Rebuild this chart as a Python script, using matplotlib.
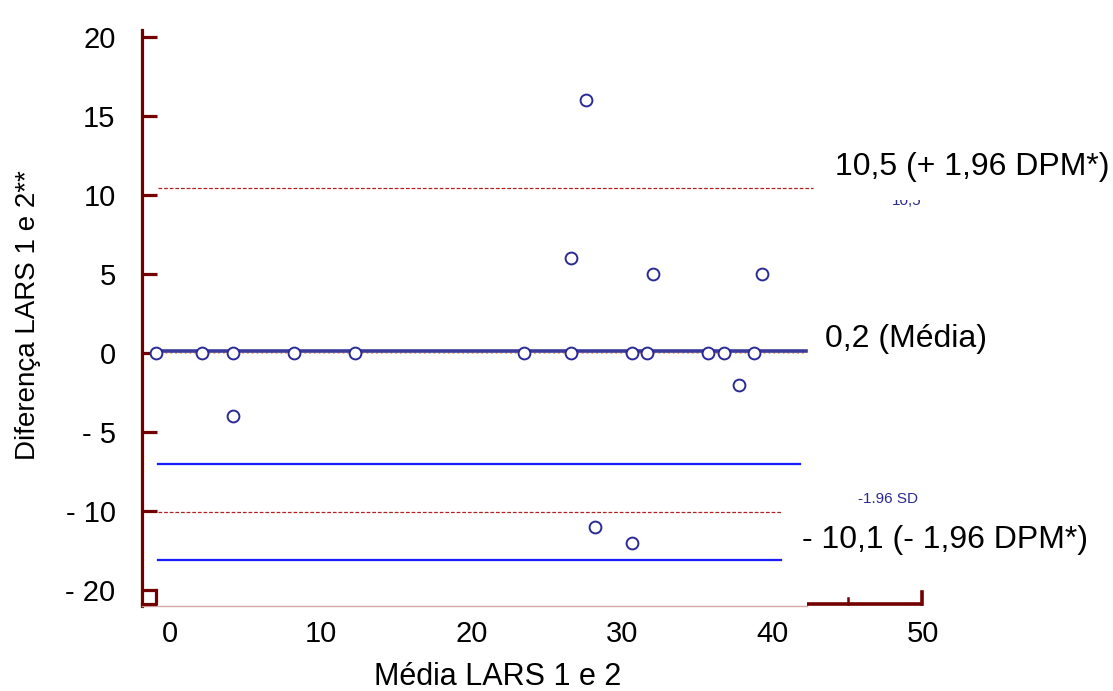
import matplotlib
matplotlib.use("Agg")
import matplotlib.pyplot as plt
from matplotlib.patches import Rectangle

plt.rcParams['font.family'] = ['Liberation Sans', 'DejaVu Sans']

# Bland-Altman points (mean of the two readings, difference)
media = [-0.9, 2.1, 4.2, 8.2, 12.3, 23.5, 26.6, 30.7, 31.7, 35.7, 36.8, 38.8,
         27.6, 26.6, 32.1, 39.3, 37.8, 28.2, 30.7, 4.2]
diferenca = [0, 0, 0, 0, 0, 0, 0, 0, 0, 0, 0, 0,
             16, 6, 5, 5, -2, -11, -12, -4]

# reference lines
media_dif = 0.15
lim_sup = 10.45
lim_inf = -10.05
azul_sup = -7.0
azul_inf = -13.1

ytick_vals = [20, 15, 10, 5, 0, -5, -10, -15]
ytick_labels = ['20', '15', '10', '5', '0', '- 5', '- 10', '- 20']
xtick_vals = [0, 10, 20, 30, 40, 50]
xtick_labels = ['0', '10', '20', '30', '40', '50']

maroon = '#730000'
navy = '#2a2a96'


def main():
    fig = plt.figure(figsize=(11.13, 6.91), dpi=100)
    ax = fig.add_axes([142 / 1113, 1 - 606 / 691, (923 - 142) / 1113, (606 - 30) / 691])
    ax.set_xlim(-1.86, 50)
    ax.set_ylim(-16.0, 20.45)

    for s in ['top', 'right', 'bottom']:
        ax.spines[s].set_visible(False)
    ax.spines['left'].set_color(maroon)
    ax.spines['left'].set_linewidth(2.3)

    ax.set_yticks(ytick_vals)
    ax.set_yticklabels(ytick_labels)
    ax.tick_params(axis='y', direction='in', length=11, width=2.3, color=maroon,
                   labelsize=21, pad=19)
    ax.set_xticks(xtick_vals)
    ax.set_xticklabels(xtick_labels)
    ax.tick_params(axis='x', length=0, labelsize=21, pad=10)

    # bottom axis pieces
    ax.plot([-1.86, 42.3], [-16, -16], color='#d4a8a8', lw=1.0, clip_on=False, zorder=3)
    ax.plot([42.3, 50], [-15.85, -15.85], color=maroon, lw=2.6, clip_on=False,
            solid_capstyle='butt', zorder=4)
    ax.plot([45, 45], [-15.85, -15.5], color=maroon, lw=1.8, clip_on=False, zorder=4)
    ax.plot([49.95, 49.95], [-15.85, -15.1], color=maroon, lw=2.6, clip_on=False, zorder=4)
    ax.plot([-0.9, -0.9, -1.86], [-15, -15.9, -15.9], color=maroon, lw=2.3,
            clip_on=False, zorder=4)

    # reference lines
    ax.plot([-0.9, 42.2], [0, 0], color='#f5a05a', lw=1.3, ls=':', zorder=2)
    ax.plot([-0.9, 42.2], [media_dif, media_dif], color='#3b3b9b', lw=2.6, zorder=2)
    ax.plot([-0.8, 42.7], [lim_sup, lim_sup], color='#b22222', lw=0.9, ls=(0, (3, 1.5)))
    ax.plot([-0.8, 40.6], [lim_inf, lim_inf], color='#b22222', lw=0.9, ls=(0, (3, 1.5)))
    ax.plot([-0.8, 41.8], [azul_sup, azul_sup], color='#1a1aff', lw=1.6)
    ax.plot([-0.8, 40.6], [azul_inf, azul_inf], color='#1a1aff', lw=1.6)

    ax.plot(media, diferenca, 'o', mfc='white', mec=navy, mew=1.4, ms=8.5,
            ls='none', zorder=5, clip_on=False)

    fig.text(28 / 1113, 1 - 315 / 691, 'Diferença LARS 1 e 2**', rotation=90,
             ha='center', va='center', fontsize=20)
    fig.text(498 / 1113, 1 - 677 / 691, 'Média LARS 1 e 2', ha='center', va='center',
             fontsize=22)

    # annotation texts
    fig.text(907 / 1113, 1 - 201 / 691, '10,5', ha='center', va='center',
             fontsize=11, color=navy, zorder=2)
    fig.patches.append(Rectangle((880 / 1113, 1 - 200 / 691), 60 / 1113, 15 / 691,
                                 transform=fig.transFigure, facecolor='white',
                                 edgecolor='none', zorder=2.5))
    fig.text(835 / 1113, 1 - 167 / 691, '10,5 (+ 1,96 DPM*)', ha='left', va='center',
             fontsize=23, zorder=3)
    fig.text(825 / 1113, 1 - 339 / 691, '0,2 (Média)', ha='left', va='center',
             fontsize=23, zorder=3)
    fig.text(888 / 1113, 1 - 499 / 691, '-1.96 SD', ha='center', va='center',
             fontsize=11, color=navy, zorder=3)
    fig.text(802 / 1113, 1 - 540 / 691, '- 10,1 (- 1,96 DPM*)', ha='left', va='center',
             fontsize=23, zorder=3)

    fig.savefig('out.png', dpi=100)


if __name__ == "__main__":
    main()
